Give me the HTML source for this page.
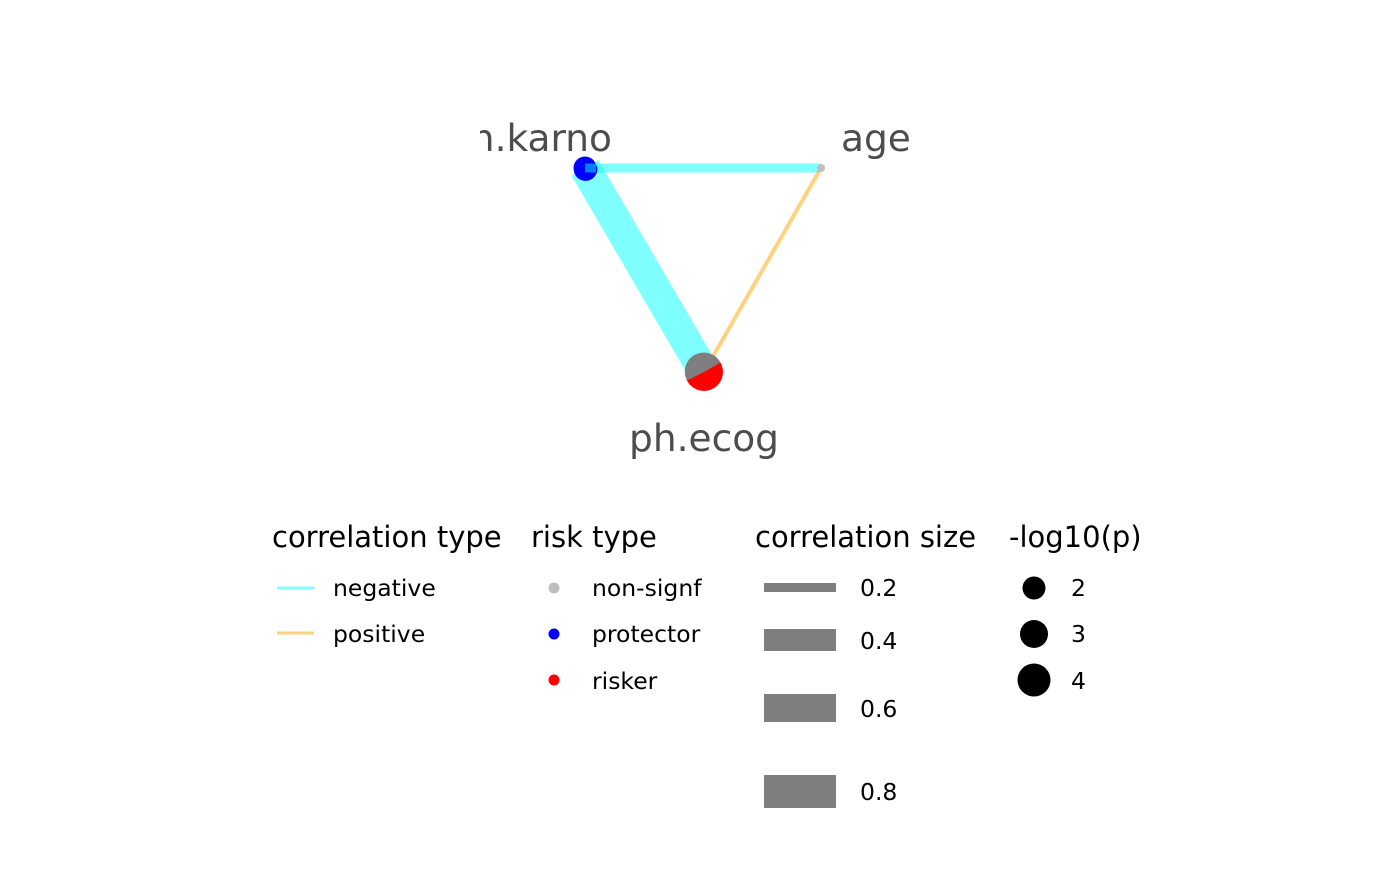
<!DOCTYPE html>
<html><head><style>body{margin:0;background:#fff}</style></head><body>
<svg width="1400" height="866" xmlns="http://www.w3.org/2000/svg" font-family="DejaVu Sans, Liberation Sans, sans-serif">
<rect width="1400" height="866" fill="#fff"/>
<g stroke-linecap="butt">
<line x1="585" y1="168" x2="821" y2="168" stroke="#00ffff" stroke-opacity="0.5" stroke-width="9"/>
<line x1="585" y1="168" x2="704" y2="372" stroke="#00ffff" stroke-opacity="0.5" stroke-width="31"/>
<line x1="821" y1="168" x2="704" y2="372" stroke="#ffa500" stroke-opacity="0.5" stroke-width="4"/>
</g>
<circle cx="585" cy="168" r="11.5" fill="#0000ff"/>
<path d="M585 168 L574 172 A11.5 11.5 0 0 0 597 166 Z" fill="#0000ff"/>
<line x1="585" y1="168" x2="596" y2="168" stroke="#00ffff" stroke-opacity="0.5" stroke-width="9"/>
<circle cx="821" cy="168" r="4" fill="#bebebe"/>
<circle cx="704" cy="372" r="19" fill="#ff0000"/>
<path d="M704 372 L687 380.5 A19 19 0 0 1 720.5 362.5 Z" fill="#7f7f7f"/>
<g font-size="37.5" fill="#4d4d4d">
<text x="612" y="151" text-anchor="end">h.karno</text>
<text x="841" y="151">age</text>
<text x="704" y="451" text-anchor="middle">ph.ecog</text>
</g>
<rect x="0" y="100" width="480" height="60" fill="#fff"/>
<g font-size="29" fill="#000">
<text x="272" y="547">correlation type</text>
<text x="531" y="547">risk type</text>
<text x="755" y="547">correlation size</text>
<text x="1009" y="547">-log10(p)</text>
</g>
<g font-size="23.5" fill="#000">
<text x="333" y="596">negative</text>
<text x="333" y="642">positive</text>
<text x="592" y="596">non-signf</text>
<text x="592" y="642">protector</text>
<text x="592" y="689">risker</text>
<text x="860" y="596">0.2</text>
<text x="860" y="649">0.4</text>
<text x="860" y="717">0.6</text>
<text x="860" y="800">0.8</text>
<text x="1071" y="596">2</text>
<text x="1071" y="642">3</text>
<text x="1071" y="689">4</text>
</g>
<line x1="277" y1="588" x2="314" y2="588" stroke="#00ffff" stroke-opacity="0.5" stroke-width="3"/>
<line x1="277" y1="633" x2="314" y2="633" stroke="#ffa500" stroke-opacity="0.5" stroke-width="3"/>
<circle cx="554" cy="588" r="5.5" fill="#bebebe"/>
<circle cx="554" cy="634" r="5.5" fill="#0000ff"/>
<circle cx="554" cy="680" r="5.5" fill="#ff0000"/>
<rect x="764" y="583" width="72" height="9" fill="#7f7f7f"/>
<rect x="764" y="629" width="72" height="22" fill="#7f7f7f"/>
<rect x="764" y="694" width="72" height="28" fill="#7f7f7f"/>
<rect x="764" y="775" width="72" height="33" fill="#7f7f7f"/>
<circle cx="1034" cy="588" r="11.5" fill="#000"/>
<circle cx="1034" cy="634" r="14" fill="#000"/>
<circle cx="1034" cy="680" r="16.5" fill="#000"/>
</svg>
</body></html>
